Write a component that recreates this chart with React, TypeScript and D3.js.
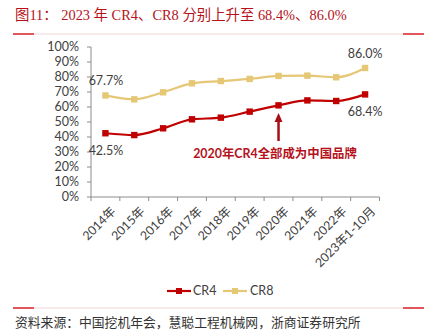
import React from "react";
import * as d3 from "d3";

const categories = ["2014年","2015年","2016年","2017年","2018年","2019年","2020年","2021年","2022年","2023年1-10月"];
const cr4 = [42.5, 41.3, 45.8, 51.8, 52.9, 56.9, 61.1, 64.4, 64.0, 68.4];
const cr8 = [67.7, 65.1, 69.8, 75.8, 77.3, 78.7, 80.7, 80.9, 79.8, 86.0];
const yTicks = [0,10,20,30,40,50,60,70,80,90,100];

const RED = "#C00000";
const GOLD = "#E5C775";
const FONT = "Lato, 'Noto Sans CJK SC', sans-serif";

export default function App() {
  const W = 429, H = 333;
  const x = d3.scaleBand<string>().domain(categories).range([91, 379.5]);
  const y = d3.scaleLinear().domain([0, 100]).range([197, 47]);
  const cx = (i: number) => (x(categories[i]) as number) + x.bandwidth() / 2;
  const line = d3.line<number>().x((_, i) => cx(i)).y(d => y(d)).curve(d3.curveMonotoneX);
  const last = categories.length - 1;
  const arrowX = cx(6);

  return (
    <svg width={W} height={H} style={{ position: "absolute", left: 0, top: 0, background: "#fff" }}>
      <text x={15} y={20} fill="#B5121B" fontSize={14.4} fontFamily="'Liberation Serif', 'Noto Sans CJK SC', serif">图11：  2023 年 CR4、CR8 分别上升至 68.4%、86.0%</text>
      <line x1={13} x2={424} y1={34} y2={34} stroke="#F3D6D6" strokeWidth={1} />
      <line x1={13} x2={34} y1={34} y2={34} stroke="#D9262C" strokeWidth={1.5} />
      <line x1={403} x2={424} y1={34} y2={34} stroke="#D9262C" strokeWidth={1.5} />

      {/* y axis */}
      <line x1={91} x2={91} y1={y(100)} y2={y(0)} stroke="#8C8C8C" />
      {yTicks.map(t => (
        <g key={t}>
          <line x1={87} x2={91} y1={y(t)} y2={y(t)} stroke="#8C8C8C" />
          <text x={79} y={y(t)} dy="0.35em" textAnchor="end" fontSize={12.5} fill="#404040" fontFamily={FONT}>{t}%</text>
        </g>
      ))}
      {/* x axis */}
      <line x1={91} x2={379.5} y1={y(0)} y2={y(0)} stroke="#8C8C8C" />
      {categories.map((c, i) => (
        <line key={c} x1={x(c) as number} x2={x(c) as number} y1={y(0)} y2={y(0) + 4} stroke="#8C8C8C" />
      ))}
      <line x1={379.5} x2={379.5} y1={y(0)} y2={y(0) + 4} stroke="#8C8C8C" />
      {categories.map((c, i) => (
        <text key={c} transform={`translate(${cx(i) + 5},${y(0) + 9}) rotate(-45)`} textAnchor="end" dy="0.7em" fontSize={12.3} fill="#404040" fontFamily={FONT}>{c}</text>
      ))}

      {/* lines */}
      <path d={line(cr8) || ""} fill="none" stroke={GOLD} strokeWidth={2.2} />
      <path d={line(cr4) || ""} fill="none" stroke={RED} strokeWidth={2.2} />
      {cr8.map((v, i) => <rect key={"a" + i} x={cx(i) - 3.2} y={y(v) - 3.2} width={6.4} height={6.4} fill={GOLD} />)}
      {cr4.map((v, i) => <rect key={"b" + i} x={cx(i) - 3.2} y={y(v) - 3.2} width={6.4} height={6.4} fill={RED} />)}

      {/* labels */}
      <text x={106} y={81} dy="0.35em" textAnchor="middle" fontSize={12.5} fill="#404040" fontFamily={FONT}>{cr8[0].toFixed(1)}%</text>
      <text x={106} y={151} dy="0.35em" textAnchor="middle" fontSize={12.5} fill="#404040" fontFamily={FONT}>{cr4[0].toFixed(1)}%</text>
      <text x={cx(last)} y={54} dy="0.35em" textAnchor="middle" fontSize={12.5} fill="#404040" fontFamily={FONT}>{cr8[last].toFixed(1)}%</text>
      <text x={cx(last)} y={112} dy="0.35em" textAnchor="middle" fontSize={12.5} fill="#404040" fontFamily={FONT}>{cr4[last].toFixed(1)}%</text>

      {/* annotation */}
      <line x1={arrowX} x2={arrowX} y1={121} y2={141} stroke="#A50F15" strokeWidth={2.5} />
      <path d={`M${arrowX - 4},${122} L${arrowX},${113} L${arrowX + 4},${122} Z`} fill="#A50F15" />
      <text x={275} y={154} dy="0.35em" textAnchor="middle" fontSize={12.4} fontWeight="bold" fill="#B5121B" fontFamily={FONT}>2020年CR4全部成为中国品牌</text>

      {/* legend */}
      <line x1={167} x2={191} y1={291} y2={291} stroke={RED} strokeWidth={2.2} />
      <rect x={176} y={288} width={6} height={6} fill={RED} />
      <text x={193} y={291} dy="0.35em" fontSize={12.5} fill="#404040" fontFamily={FONT}>CR4</text>
      <line x1={223} x2={247} y1={291} y2={291} stroke={GOLD} strokeWidth={2.2} />
      <rect x={232} y={288} width={6} height={6} fill={GOLD} />
      <text x={250} y={291} dy="0.35em" fontSize={12.5} fill="#404040" fontFamily={FONT}>CR8</text>

      <line x1={13} x2={424} y1={308} y2={308} stroke="#F3D6D6" strokeWidth={1} />
      <line x1={13} x2={34} y1={308} y2={308} stroke="#D9262C" strokeWidth={1.5} />
      <line x1={403} x2={424} y1={308} y2={308} stroke="#D9262C" strokeWidth={1.5} />
      <text x={15} y={323} dy="0.35em" fontSize={12.8} fill="#333" fontFamily="'Noto Sans CJK SC', serif">资料来源：中国挖机年会，慧聪工程机械网，浙商证券研究所</text>
    </svg>
  );
}
